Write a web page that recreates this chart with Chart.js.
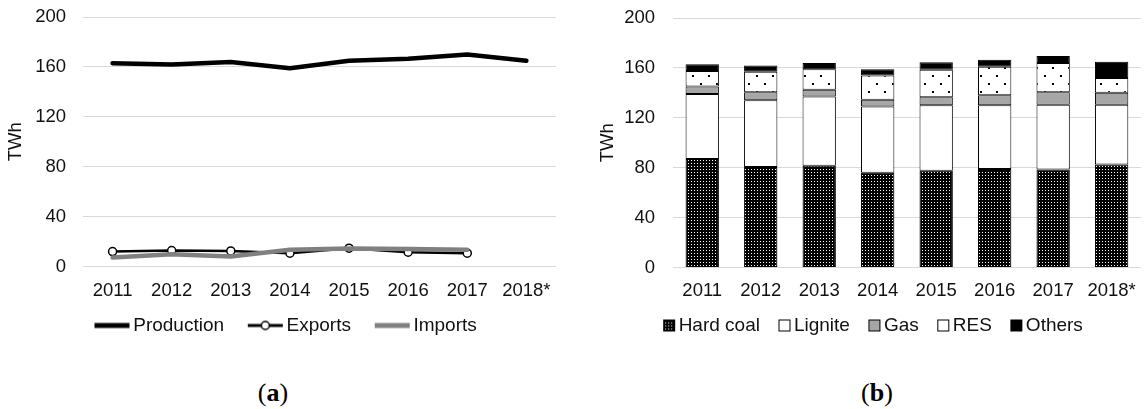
<!DOCTYPE html>
<html>
<head>
<meta charset="utf-8">
<script src="https://cdn.jsdelivr.net/npm/chart.js@4.4.1/dist/chart.umd.min.js"></script>
<style>
body { margin: 0; background: #fff; width: 1148px; height: 409px; position: relative; overflow: hidden; }
.box { position: absolute; top: 0; height: 345px; }
.cap { position: absolute; top: 380px; width: 100px; text-align: center; font-family: "Liberation Serif", "Times New Roman", serif; font-size: 26px; line-height: 26px; color: #000; }
</style>
</head>
<body>
<div class="box" style="left:0;width:564px"><canvas id="prodChart"></canvas></div>
<div class="box" style="left:585px;width:563px"><canvas id="mixChart"></canvas></div>
<div class="cap" style="left:223px">(<b>a</b>)</div>
<div class="cap" style="left:827px">(<b>b</b>)</div>
<script>
var years = ['2011', '2012', '2013', '2014', '2015', '2016', '2017', '2018*'];
var yTicks = [0, 40, 80, 120, 160, 200];

// (a) production and trade, TWh
var production = [163, 162, 164, 159, 165, 166.5, 170, 165];
var exportsTWh = [12, 12.8, 12.5, 10.7, 14.7, 11.5, 10.7, null];
var importsTWh = [7.2, 9.9, 8, 13.4, 14.5, 14, 13.4, null];

// (b) generation mix, TWh
var hardCoal = [87, 80.5, 81.5, 76, 77.5, 79, 78.5, 82.5];
var lignite = [52, 53.5, 55.5, 53, 52.5, 51, 52, 48];
var gas = [6, 6.5, 5.5, 5.5, 6.5, 8, 10, 9.5];
var res = [12.5, 16.5, 16.5, 19.5, 22, 23, 23.5, 12];
var others = [5.5, 5, 5, 5, 6, 5.5, 5.5, 13];

Chart.defaults.font.family = '"Liberation Sans", Arial, sans-serif';
Chart.defaults.color = '#111';

function tile(w, h, draw) {
    var c = document.createElement('canvas');
    c.width = w;
    c.height = h;
    draw(c.getContext('2d'));
    return c;
}

var hardCoalTile = tile(3, 3, function (g) {
    g.fillStyle = '#000';
    g.fillRect(0, 0, 3, 3);
    g.fillStyle = '#fff';
    g.fillRect(1, 1, 1, 1);
});
var resTile = tile(16, 16, function (g) {
    g.fillStyle = '#fff';
    g.fillRect(0, 0, 16, 16);
    g.fillStyle = '#000';
    g.fillRect(3, 3, 2, 2);
    g.fillRect(11, 11, 2, 2);
});

// legend icons: drawn off-centre so the text sits close to the swatch
function lineIcon(color, width, marker) {
    return tile(52, 14, function (g) {
        g.strokeStyle = color;
        g.lineWidth = width;
        g.beginPath();
        g.moveTo(16, 7);
        g.lineTo(51, 7);
        g.stroke();
        if (marker) {
            g.beginPath();
            g.arc(33.5, 7, 4, 0, Math.PI * 2);
            g.fillStyle = '#fff';
            g.fill();
            g.lineWidth = 1.5;
            g.stroke();
        }
    });
}

function boxIcon(fill) {
    return tile(24, 14, function (g) {
        g.fillStyle = typeof fill === 'string' ? fill : g.createPattern(fill, 'repeat');
        g.fillRect(11.5, 1.5, 11, 11);
        g.strokeStyle = '#000';
        g.lineWidth = 1;
        g.strokeRect(11.5, 1.5, 11, 11);
    });
}

var prodIcons = [lineIcon('#000', 5), lineIcon('#000', 3, true), lineIcon('#808080', 5)];
var mixIcons = [boxIcon(hardCoalTile), boxIcon('#fff'), boxIcon('#a6a6a6'), boxIcon('#fff'), boxIcon('#000')];

function valueAxis(width, pad) {
    return {
        min: 0,
        max: 200,
        afterBuildTicks: function (s) {
            s.ticks = yTicks.map(function (v) { return { value: v }; });
        },
        afterFit: function (s) {
            s.width = width;
            s.paddingTop = 0;
            s.paddingBottom = 0;
        },
        ticks: { padding: pad, font: { size: 18.5 } },
        grid: { color: '#d9d9d9', drawTicks: false },
        border: { display: false },
        title: { display: true, text: 'TWh', font: { size: 18.5 }, padding: 0 }
    };
}

function yearAxis(stacked, height, pad) {
    return {
        stacked: stacked,
        offset: true,
        afterFit: function (s) { s.height = height; },
        grid: { display: false, drawTicks: false },
        border: { display: false },
        ticks: { padding: pad, font: { size: 18.5 }, maxRotation: 0, autoSkip: false }
    };
}

function legendOpts(icons, width) {
    return {
        position: 'bottom',
        labels: {
            usePointStyle: true,
            pointStyleWidth: width,
            padding: 14.5,
            font: { size: 19 },
            generateLabels: function (chart) {
                return Chart.defaults.plugins.legend.labels.generateLabels(chart).map(function (item) {
                    item.pointStyle = icons[item.datasetIndex];
                    return item;
                });
            },
            sort: function (a, b) { return a.datasetIndex - b.datasetIndex; }
        }
    };
}

new Chart(document.getElementById('prodChart'), {
    type: 'line',
    data: {
        labels: years,
        datasets: [
            { label: 'Production', data: production, borderColor: '#000', borderWidth: 4.5, pointRadius: 0, order: 2 },
            { label: 'Exports', data: exportsTWh, borderColor: '#000', borderWidth: 2.5, pointRadius: 4,
              pointBackgroundColor: '#fff', pointBorderColor: '#000', pointBorderWidth: 1.5, order: 1 },
            { label: 'Imports', data: importsTWh, borderColor: '#808080', borderWidth: 4.5, pointRadius: 0, order: 0 }
        ]
    },
    options: {
        animation: false,
        maintainAspectRatio: false,
        elements: { line: { tension: 0, borderCapStyle: 'round', borderJoinStyle: 'round' } },
        layout: { padding: { top: 17, left: 5, right: 7, bottom: 0 } },
        scales: { x: yearAxis(false, 35, 13), y: valueAxis(78, 17) },
        plugins: { legend: legendOpts(prodIcons, 38.5), tooltip: { enabled: false } }
    }
});

var mixCtx = document.getElementById('mixChart').getContext('2d');
var hardCoalFill = mixCtx.createPattern(hardCoalTile, 'repeat');
var resFill = mixCtx.createPattern(resTile, 'repeat');

function segment(label, data, fill) {
    return {
        label: label,
        data: data,
        backgroundColor: fill,
        borderColor: '#000',
        borderWidth: 1,
        borderSkipped: false,
        barPercentage: 0.57,
        categoryPercentage: 1
    };
}

new Chart(mixCtx, {
    type: 'bar',
    data: {
        labels: years,
        datasets: [
            segment('Hard coal', hardCoal, hardCoalFill),
            segment('Lignite', lignite, '#fff'),
            segment('Gas', gas, '#a6a6a6'),
            segment('RES', res, resFill),
            segment('Others', others, '#000')
        ]
    },
    options: {
        animation: false,
        maintainAspectRatio: false,
        layout: { padding: { top: 18, left: 12, right: 3, bottom: 0 } },
        scales: { x: yearAxis(true, 34, 12), y: Object.assign(valueAxis(76, 18), { stacked: true }) },
        plugins: { legend: legendOpts(mixIcons, 10), tooltip: { enabled: false } }
    }
});
</script>
</body>
</html>
